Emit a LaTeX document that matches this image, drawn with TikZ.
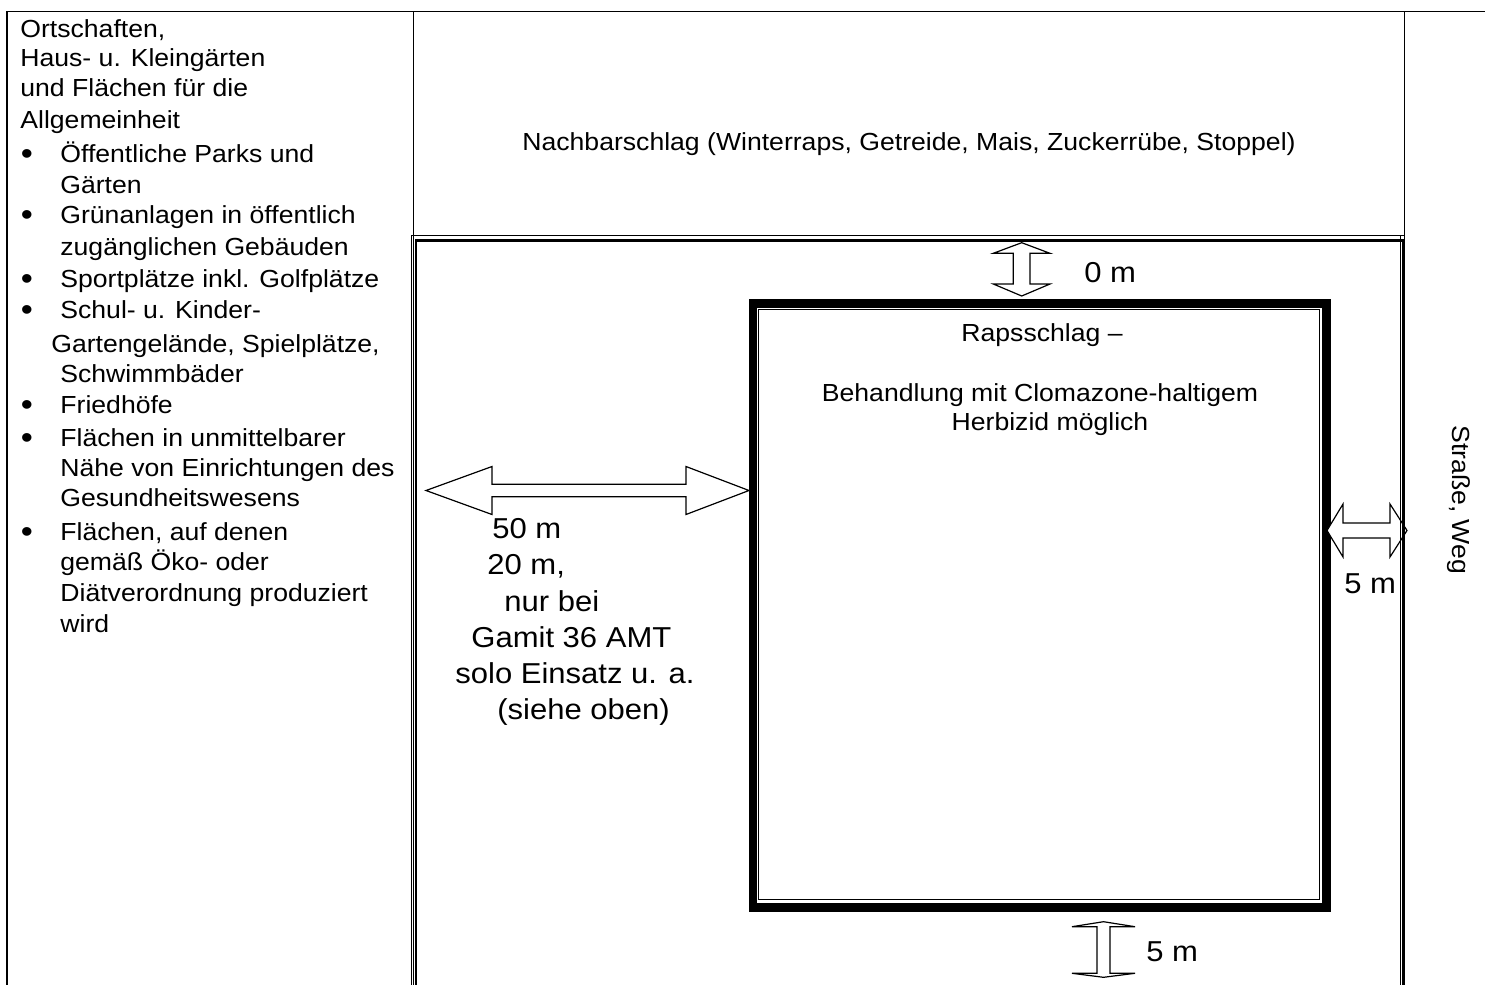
\documentclass[tikz,border=0pt]{standalone}
\usepackage{fontspec}
\setmainfont{Liberation Sans}[FakeStretch=1.077]

\begin{document}
\begin{tikzpicture}[x=0.5pt, y=-0.5pt,
  txt/.style={inner sep=0pt, font=\fontsize{12.35}{14}\selectfont},
  lbl/.style={inner sep=0pt, font=\fontsize{14.4}{16}\selectfont},
  dot/.style={inner sep=0pt, font=\fontsize{16}{16}\selectfont},
  rule/.style={line width=0.6pt},
  gaparrow/.style={draw, fill=white, line width=0.6pt, line join=miter}]

  \useasboundingbox (0,0) rectangle (1485,985);

  % rape field with its thick frame
  \draw[line width=4.25pt] (753,303.5) rectangle (1326.5,907.5);
  \draw[line width=0.65pt] (758.5,309.5) rectangle (1319.5,899.5);

  % distance arrows
  \draw[gaparrow] (426,490.5) -- (492,466.5) -- (492,484.3) -- (686,484.3) -- (686,466.5)
    -- (749,490.5) -- (686,514.5) -- (686,496.7) -- (492,496.7) -- (492,514.5) -- cycle;
  \draw[gaparrow] (1021.7,242.7) -- (1050,253.3) -- (1030,253.3) -- (1030,284) -- (1050,284)
    -- (1021.7,296) -- (993.3,284) -- (1013.3,284) -- (1013.3,253.3) -- (993.3,253.3) -- cycle;
  \draw[gaparrow] (1103.5,921.7) -- (1135,926.7) -- (1110,926.7) -- (1110,973.3) -- (1135,973.3)
    -- (1103.5,977.3) -- (1072,973.3) -- (1097,973.3) -- (1097,926.7) -- (1072,926.7) -- cycle;
  \draw[gaparrow] (1327,530.5) -- (1343,504) -- (1343,523) -- (1390,523) -- (1390,504)
    -- (1407,530.5) -- (1390,557) -- (1390,538) -- (1343,538) -- (1343,557) -- cycle;

  % table grid
  \draw[rule] (7,985) -- (7,11.5) -- (1485,11.5);
  \draw[rule] (413.3,11.5) -- (413.3,985);
  \draw[rule] (413.3,235.5) -- (1404.5,235.5);
  \draw[rule] (1404.5,11.5) -- (1404.5,985);

  % neighbouring field, thin-thick border
  \draw[line width=0.5pt] (411,985) -- (411,235.7) -- (1400.2,235.7) -- (1400.2,985);
  \draw[line width=1.2pt] (415.7,985) -- (415.7,240.5) -- (1403,240.5) -- (1403,985);

  % left column
  \foreach \x/\y/\t [count=\i] in {
      20/37/{Ortschaften,},
      20/67/{Haus- u. Kleingärten},
      20/97/{und Flächen für die},
      20/128/{Allgemeinheit},
      60/162/{Öffentliche Parks und},
      60/193/{Gärten},
      60/223/{Grünanlagen in öffentlich},
      60/255/{zugänglichen Gebäuden},
      60/287/{Sportplätze inkl. Golfplätze},
      60/318/{Schul- u. Kinder-},
      51/352/{Gartengelände, Spielplätze,},
      60/382/{Schwimmbäder},
      60/413/{Friedhöfe},
      60/446/{Flächen in unmittelbarer},
      60/476/{Nähe von Einrichtungen des},
      60/506/{Gesundheitswesens},
      60/540/{Flächen, auf denen},
      60/570/{gemäß Öko- oder},
      60/601/{Diätverordnung produziert},
      60/632/{wird}}
    \node[txt, anchor=base west] (use\i) at (\x,\y) {\t};
  \foreach \y [count=\i] in {162,223,287,318,413,446,540}
    \node[dot, anchor=base] (dot\i) at (27,\y+2) {\textbullet};

  % neighbouring crop and road
  \node[txt, anchor=base] (nachbar) at (909,150)
    {Nachbarschlag (Winterraps, Getreide, Mais, Zuckerrübe, Stoppel)};
  \node[txt, anchor=base west, rotate=-90] (road) at (1452,425) {Straße, Weg};

  % rape field text
  \node[txt, anchor=base] (raps) at (1042,341.5) {Rapsschlag –};
  \node[txt, anchor=base] (treat1) at (1040,401.5) {Behandlung mit Clomazone-haltigem};
  \node[txt, anchor=base] (treat2) at (1050,430) {Herbizid möglich};

  % distances
  \foreach \x/\y/\t [count=\i] in {
      492/538/{50 m},
      487/574/{20 m,},
      504/611/{nur bei},
      471/647/{Gamit 36 AMT},
      455/683/{solo Einsatz u. a.},
      497/719/{(siehe oben)}}
    \node[lbl, anchor=base west] (far\i) at (\x,\y) {\t};
  \node[lbl, anchor=base west] (gaptop) at (1084,282) {0 m};
  \node[lbl, anchor=base west] (gapbot) at (1146,961) {5 m};
  \node[lbl, anchor=base west] (gapright) at (1344,593) {5 m};
\end{tikzpicture}
\end{document}
